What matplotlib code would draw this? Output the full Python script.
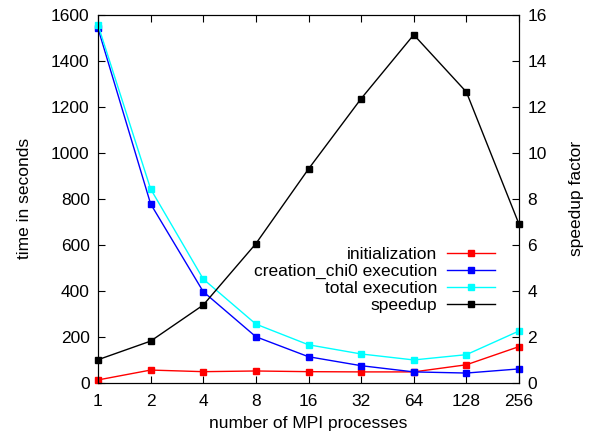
import matplotlib
matplotlib.use('Agg')
import matplotlib.pyplot as plt
import numpy as np

# data
procs = ['1', '2', '4', '8', '16', '32', '64', '128', '256']
initialization = [12, 55, 48, 51, 48, 47, 47, 78, 157]
creation_chi0 = [1542, 778, 396, 200, 113, 74, 47, 42, 60]
total_execution = [1557, 843, 451, 255, 165, 125, 99, 122, 225]
speedup = [1.0, 1.81, 3.38, 6.05, 9.3, 12.36, 15.14, 12.65, 6.9]

plt.rcParams['font.family'] = ['Liberation Sans', 'DejaVu Sans']
plt.rcParams['font.size'] = 12.5

fig = plt.figure(figsize=(5.91, 4.36), dpi=100)
ax = fig.add_axes([98 / 591, 1 - 382.7 / 436, 421 / 591, 367.7 / 436])
ax2 = ax.twinx()

x = np.arange(len(procs))
ms = 5
l1, = ax.plot(x, initialization, color='red', marker='s', ms=ms, lw=1, label='initialization')
l2, = ax.plot(x, creation_chi0, color='blue', marker='s', ms=ms, lw=1, label='creation_chi0 execution')
l3, = ax.plot(x, total_execution, color='cyan', marker='s', ms=ms, lw=1, label='total execution')
l4, = ax2.plot(x, speedup, color='black', marker='s', ms=ms, lw=1, label='speedup')

for m in (l1, l2, l3, l4):
    m.set_clip_on(False)

ax.set_xlim(0, 8)
ax.set_ylim(0, 1600)
ax2.set_ylim(0, 16)
ax.set_xticks(x)
ax.set_xticklabels(procs)
ax.set_yticks(np.arange(0, 1601, 200))
ax2.set_yticks(np.arange(0, 17, 2))

ax.tick_params(axis='x', direction='in', top=True, length=5, pad=8)
ax.tick_params(axis='y', direction='in', length=5, pad=6)
ax2.tick_params(axis='y', direction='in', length=5, pad=6)

ax.set_xlabel('number of MPI processes', labelpad=5)
ax.set_ylabel('time in seconds', labelpad=14)
ax2.set_ylabel('speedup factor', labelpad=16)

ax2.legend(handles=[l1, l2, l3, l4], loc='upper right',
           bbox_to_anchor=(502 / 591, 1 - 240 / 436), bbox_transform=fig.transFigure,
           frameon=False, markerfirst=False, handlelength=2.75,
           labelspacing=0.1, handletextpad=0.6, borderaxespad=0)

fig.savefig('out.png', dpi=100)
